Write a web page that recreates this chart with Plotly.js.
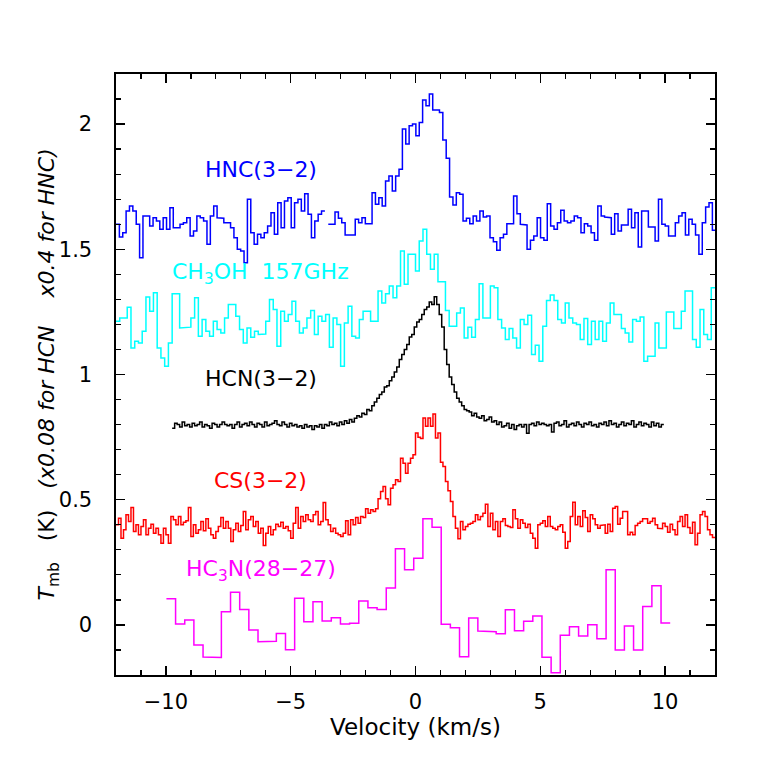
<!DOCTYPE html>
<html>
<head>
<meta charset="utf-8">
<script src="https://cdn.plot.ly/plotly-3.0.1.min.js"></script>
<style>
  html, body { margin: 0; padding: 0; background: #fff; }
  #chart { width: 772px; height: 772px; }
</style>
</head>
<body>
<div id="chart"></div>
<script>
// --- Spectra: first channel edge (km/s), channel width (km/s), Tmb per channel ---
const hncStart = -12, hncWidth = 0.135;
const hncValues = [
  1.60, 1.549, 1.566, 1.653, 1.673, 1.653, 1.60, 1.466, 1.633, 1.633,
  1.593, 1.626, 1.613, 1.58, 1.626, 1.58, 1.666, 1.586, 1.586, 1.60,
  1.606, 1.626, 1.553, 1.573, 1.633, 1.626, 1.613, 1.52, 1.633, 1.673,
  1.626, 1.624, 1.606, 1.606, 1.586, 1.546, 1.50, 1.493, 1.446, 1.70,
  1.566, 1.52, 1.56, 1.546, 1.566, 1.593, 1.646, 1.56, 1.686, 1.586,
  1.693, 1.706, 1.586, 1.686, 1.70, 1.653, 1.722, 1.64, 1.546, 1.613,
  1.64, 1.653, null, 1.60, 1.60, 1.649, 1.624, 1.606, 1.557, 1.557,
  1.557, 1.62, 1.606, 1.626, 1.602, 1.602, 1.726, 1.68, 1.706, 1.673,
  1.773, 1.793, 1.733, 1.793, 1.82, 1.98, 1.92, 1.993, 2.0, 1.953,
  2.006, 2.096, 2.073, 2.12, 2.056, 2.056, 2.046, 1.936, 1.864, 1.709,
  1.677, 1.726, 1.72, 1.613, 1.624, 1.602, 1.633, 1.613, 1.653, 1.629,
  1.633, 1.546, 1.53, 1.496, 1.546, 1.56, 1.602, 1.602, 1.713, 1.642,
  1.60, 1.597, 1.50, 1.536, 1.553, 1.626, 1.546, 1.536, 1.682, 1.593,
  1.58, 1.606, 1.656, 1.613, 1.606, 1.613, 1.633, 1.626, 1.566, 1.602,
  1.593, 1.566, 1.536, 1.673, 1.633, 1.629, 1.626, 1.56, 1.642, 1.573,
  1.597, 1.597, 1.66, 1.586, 1.646, 1.509, 1.653, 1.653, 1.589, 1.589,
  1.533, 1.70, 1.60, 1.593, 1.553, 1.553, 1.606, 1.633, 1.646, 1.557,
  1.62, 1.60, 1.557, 1.48, 1.606, 1.669, 1.686, 1.576
];

const ch3ohStart = -12, ch3ohWidth = 0.15;
const ch3ohValues = [
  1.213, 1.226, 1.226, 1.269, 1.106, 1.133, 1.126, 1.173, 1.309, 1.253,
  1.326, 1.106, 1.066, 1.033, 1.126, 1.322, 1.322, 1.186, 1.186, 1.189,
  1.226, 1.306, 1.153, 1.22, 1.173, 1.153, 1.213, 1.18, 1.166, 1.226,
  1.28, 1.28, 1.233, 1.18, 1.126, 1.186, 1.149, 1.173, 1.16, 1.162,
  1.213, 1.30, 1.26, 1.113, 1.253, 1.213, 1.24, 1.293, 1.213, 1.166,
  1.186, 1.226, 1.256, 1.16, 1.233, 1.213, 1.24, 1.109, 1.226, 1.2,
  1.033, 1.206, 1.273, 1.153, 1.146, 1.22, 1.253, 1.253, 1.213, 1.213,
  1.333, 1.286, 1.322, 1.353, 1.306, 1.353, 1.493, 1.36, 1.48, 1.48,
  1.413, 1.533, 1.58, 1.48, 1.42, 1.48, 1.37, 1.37, 1.256, 1.193,
  1.193, 1.246, 1.266, 1.146, 1.189, 1.149, 1.22, 1.362, 1.226, 1.226,
  1.353, 1.346, 1.22, 1.186, 1.14, 1.184, 1.146, 1.106, 1.22, 1.2,
  1.237, 1.08, 1.117, 1.053, 1.193, 1.296, 1.317, 1.296, 1.22, 1.206,
  1.286, 1.226, 1.206, 1.2, 1.14, 1.224, 1.12, 1.213, 1.14, 1.213,
  1.133, 1.206, 1.286, 1.24, 1.24, 1.184, 1.166, 1.13, 1.22, 1.213,
  1.23, 1.053, 1.073, 1.073, 1.206, 1.106, 1.106, 1.25, 1.25, 1.184,
  1.184, 1.253, 1.333, 1.333, 1.14, 1.109, 1.26, 1.16, 1.14, 1.346
];

const hcnStart = -9.75, hcnWidth = 0.1;
const hcnValues = [
  0.785, 0.805, 0.80, 0.79, 0.81, 0.795, 0.80, 0.79, 0.805, 0.795,
  0.80, 0.81, 0.79, 0.80, 0.795, 0.785, 0.805, 0.80, 0.79, 0.80,
  0.81, 0.80, 0.795, 0.80, 0.785, 0.80, 0.81, 0.79, 0.80, 0.805,
  0.795, 0.81, 0.80, 0.79, 0.805, 0.80, 0.79, 0.81, 0.795, 0.80,
  0.805, 0.815, 0.80, 0.795, 0.81, 0.80, 0.79, 0.805, 0.795, 0.80,
  0.79, 0.795, 0.785, 0.80, 0.79, 0.795, 0.78, 0.795, 0.79, 0.80,
  0.785, 0.80, 0.795, 0.81, 0.80, 0.805, 0.795, 0.81, 0.80, 0.815,
  0.805, 0.82, 0.81, 0.825, 0.835, 0.83, 0.845, 0.84, 0.86, 0.855,
  0.875, 0.89, 0.905, 0.92, 0.93, 0.95, 0.955, 0.975, 0.99, 1.01,
  1.03, 1.06, 1.08, 1.10, 1.12, 1.15, 1.16, 1.19, 1.21, 1.22,
  1.24, 1.26, 1.27, 1.29, 1.28, 1.31, 1.28, 1.24, 1.19, 1.10,
  1.04, 0.99, 0.96, 0.93, 0.905, 0.89, 0.875, 0.86, 0.855, 0.85,
  0.835, 0.845, 0.83, 0.825, 0.835, 0.815, 0.82, 0.83, 0.81, 0.815,
  0.80, 0.81, 0.79, 0.795, 0.805, 0.785, 0.80, 0.78, 0.795, 0.80,
  0.79, 0.80, 0.765, 0.80, 0.805, 0.795, 0.81, 0.80, 0.805, 0.80,
  0.795, 0.80, 0.77, 0.805, 0.81, 0.795, 0.80, 0.815, 0.79, 0.80,
  0.805, 0.795, 0.81, 0.80, 0.79, 0.805, 0.80, 0.81, 0.795, 0.80,
  0.79, 0.805, 0.80, 0.81, 0.795, 0.815, 0.80, 0.805, 0.79, 0.80,
  0.81, 0.795, 0.805, 0.80, 0.815, 0.79, 0.80, 0.81, 0.795, 0.805,
  0.80, 0.79, 0.81, 0.795, 0.805, 0.79, 0.80
];

const csStart = -12, csWidth = 0.1;
const csValues = [
  0.40,
  0.426, 0.346, 0.38, 0.44, 0.413, 0.469, 0.373, 0.40, 0.36, 0.393,
  0.42, 0.36, 0.386, 0.402, 0.366, 0.386, 0.36, 0.326, 0.386, 0.36,
  0.326, 0.433, 0.42, 0.40, 0.433, 0.40, 0.41, 0.416, 0.469, 0.353,
  0.40, 0.366, 0.38, 0.413, 0.376, 0.424, 0.386, 0.36, 0.346, 0.373,
  0.393, 0.429, 0.386, 0.413, 0.386, 0.333, 0.38, 0.406, 0.373, 0.397,
  0.453, 0.38, 0.42, 0.433, 0.393, 0.413, 0.366, 0.386, 0.317, 0.366,
  0.393, 0.36, 0.38, 0.402, 0.393, 0.41, 0.386, 0.393, 0.376, 0.346,
  0.406, 0.469, 0.386, 0.433, 0.413, 0.44, 0.42, 0.413, 0.44, 0.453,
  0.40, 0.413, 0.489, 0.42, 0.40, 0.373, 0.386, 0.366, 0.36, 0.353,
  0.366, 0.416, 0.36, 0.42, 0.40, 0.429, 0.406, 0.433, 0.429, 0.464,
  0.446, 0.46, 0.453, 0.464, 0.504, 0.533, 0.553, 0.504, 0.48, 0.546,
  0.56, 0.58, 0.573, 0.666, 0.646, 0.606, 0.646, 0.666, 0.68, 0.766,
  0.749, 0.744, 0.826, 0.793, 0.826, 0.793, 0.842, 0.746, 0.766, 0.65,
  0.633, 0.573, 0.536, 0.493, 0.433, 0.386, 0.344, 0.413, 0.38, 0.393,
  0.402, 0.406, 0.413, 0.44, 0.42, 0.433, 0.446, 0.482, 0.393, 0.446,
  0.38, 0.413, 0.353, 0.413, 0.424, 0.397, 0.393, 0.389, 0.46, 0.424,
  0.386, 0.42, 0.406, 0.389, 0.402, 0.366, 0.346, 0.306, 0.40, 0.406,
  0.416, 0.393, 0.433, 0.393, 0.386, 0.38, 0.393, 0.40, 0.37, 0.306,
  0.333, 0.433, 0.49, 0.40, 0.433, 0.393, 0.456, 0.429, 0.373, 0.44,
  0.424, 0.40, 0.386, 0.397, 0.40, 0.366, 0.402, 0.373, 0.466, 0.473,
  0.402, 0.426, 0.453, 0.453, 0.36, 0.37, 0.36, 0.397, 0.406, 0.413,
  0.424, 0.424, 0.406, 0.413, 0.426, 0.40, 0.386, 0.384, 0.406, 0.393,
  0.37, 0.402, 0.38, 0.36, 0.413, 0.433, 0.393, 0.44, 0.389, 0.366,
  0.41, 0.32, 0.366, 0.44, 0.453, 0.433, 0.38, 0.36, 0.349
];

const hc3nStart = -9.98, hc3nWidth = 0.367;
const hc3nValues = [
  0.104, 0.004, 0.02, -0.08, -0.128, -0.13, 0.053, 0.13, 0.062, -0.02,
  -0.067, -0.065, -0.034, -0.099, 0.106, 0.013, 0.093, 0.016, 0.029, 0.004,
  0.007, 0.096, 0.069, 0.062, 0.147, 0.304, 0.22, 0.266, 0.424, 0.39,
  0.003, -0.011, -0.127, 0.028, -0.024, -0.027, -0.035, 0.061, -0.023, 0.015,
  0.036, -0.129, -0.191, -0.041, -0.007, -0.044, 0.001, -0.055, 0.22, -0.1,
  -0.004, -0.1, 0.074, 0.156, 0.008
];

// line labels
const lineNames = ["HNC(3\u22122)", "CH<sub>3</sub>OH\u00a0\u00a0157GHz", "HCN(3\u22122)", "CS(3\u22122)", "HC<sub>3</sub>N(28\u221227)"];
const labelVelocity = -6.2;
const labelLevels = [1.818, 1.405, 0.986, 0.577, 0.217];

// histogram steps: each channel drawn flat from its left to its right edge
const steps = (start, width, vals) => {
  const x = [], y = [];
  vals.forEach((v, i) => {
    if (v === null) { x.push(null); y.push(null); return; }
    x.push(start + i * width, start + (i + 1) * width);
    y.push(v, v);
  });
  return { x, y };
};

const colors = ["#0000ff", "#00ffff", "#000000", "#ff0000", "#ff00ff"];
const spectra = [
  steps(hncStart, hncWidth, hncValues),
  steps(ch3ohStart, ch3ohWidth, ch3ohValues),
  steps(hcnStart, hcnWidth, hcnValues),
  steps(csStart, csWidth, csValues),
  steps(hc3nStart, hc3nWidth, hc3nValues)
];

const data = spectra.map((s, i) => ({
  x: s.x, y: s.y,
  type: 'scatter', mode: 'lines',
  line: { color: colors[i], width: 1.5 },
  hoverinfo: 'skip'
}));

const axisCommon = {
  ticks: 'inside', ticklen: 9, tickwidth: 1.3, tickcolor: '#000',
  showline: true, linecolor: '#000', linewidth: 1.6, mirror: 'ticks',
  showgrid: false, zeroline: false,
  tickfont: { family: 'DejaVu Sans', size: 21, color: '#000' }
};

const layout = {
  width: 772, height: 772,
  margin: { l: 116, r: 57, t: 74, b: 97 },
  paper_bgcolor: '#fff', plot_bgcolor: '#fff',
  showlegend: false,
  font: { family: 'DejaVu Sans', size: 22, color: '#000' },
  xaxis: {
    ...axisCommon,
    range: [-12, 12], tick0: 0, dtick: 5, ticklabelstandoff: 7,
    minor: { dtick: 1, ticks: 'inside', ticklen: 5, tickwidth: 1.3, tickcolor: '#000', showgrid: false }
  },
  yaxis: {
    ...axisCommon,
    range: [-0.2, 2.2], tick0: 0, dtick: 0.5, ticklabelstandoff: 18,
    minor: { dtick: 0.1, ticks: 'inside', ticklen: 5, tickwidth: 1.3, tickcolor: '#000', showgrid: false }
  },
  annotations: [
    ...lineNames.map((t, i) => ({
      text: t, x: labelVelocity, y: labelLevels[i], xref: 'x', yref: 'y',
      xanchor: 'center', yanchor: 'middle', showarrow: false,
      font: { family: 'DejaVu Sans', size: 22, color: colors[i] }
    })),
    {
      text: 'Velocity (km/s)', xref: 'paper', yref: 'paper', x: 0.5, y: -0.086,
      xanchor: 'center', yanchor: 'middle', showarrow: false,
      font: { family: 'DejaVu Sans', size: 23, color: '#000' }
    },
    {
      text: '<i>T</i><sub>mb</sub>\u00a0\u00a0\u00a0(K)\u00a0\u00a0\u00a0<i>(x0.08 for HCN\u00a0\u00a0\u00a0\u00a0x0.4 for HNC)</i>',
      xref: 'paper', yref: 'paper', x: -0.112, y: 0.5, textangle: -90,
      xanchor: 'center', yanchor: 'middle', showarrow: false,
      font: { family: 'DejaVu Sans', size: 22, color: '#000' }
    }
  ]
};

Plotly.newPlot('chart', data, layout, { staticPlot: true, displayModeBar: false });
</script>
</body>
</html>
